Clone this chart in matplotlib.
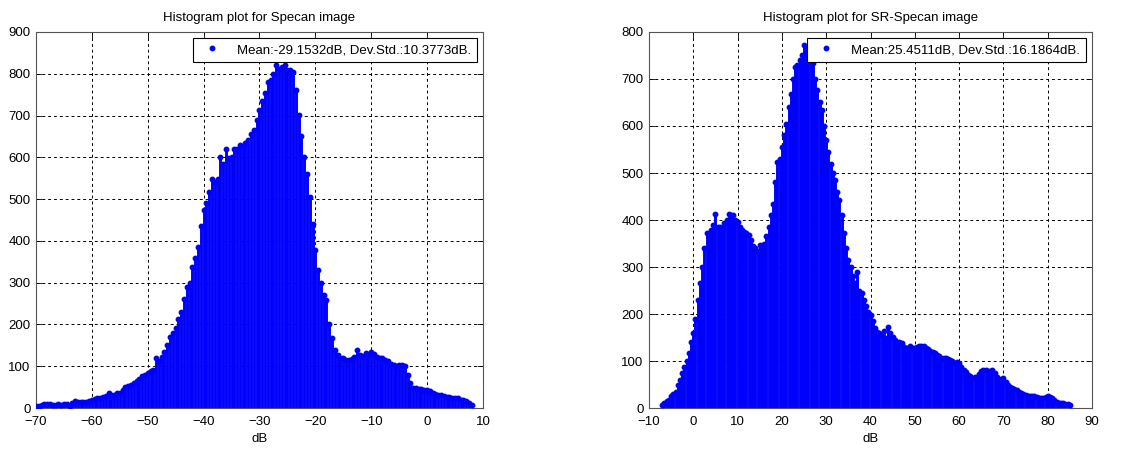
import numpy as np
import matplotlib
matplotlib.use('Agg')
import matplotlib.pyplot as plt

plt.rcParams['font.family'] = ['Liberation Sans', 'DejaVu Sans']
plt.rcParams['font.size'] = 9

# histogram of the Specan image, bins every 0.5 dB from -70 dB
specan_start = -70.0
specan_counts = [
    5, 6, 8, 9, 10, 9, 8, 8, 9, 8, 9, 9, 6, 12, 16, 15, 14, 15, 15, 17,
    18, 22, 24, 24, 26, 28, 36, 31, 32, 35, 37, 42, 50, 53, 56, 60, 64, 70, 76, 80,
    85, 88, 90, 120, 112, 122, 135, 150, 171, 180, 191, 212, 231, 260, 290, 300, 338, 360, 386, 435,
    474, 490, 518, 548, 541, 548, 600, 585, 620, 598, 601, 620, 621, 630, 625, 635, 641, 655, 665, 690,
    713, 735, 753, 780, 785, 800, 820, 812, 816, 822, 808, 810, 804, 760, 701, 650, 601, 560, 506, 440,
    378, 330, 299, 270, 259, 200, 167, 140, 127, 120, 119, 115, 115, 118, 123, 140, 127, 125, 131, 128,
    133, 130, 123, 120, 119, 115, 112, 106, 104, 100, 104, 102, 100, 80, 60, 48, 48, 46, 45, 44,
    42, 40, 36, 34, 32, 30, 28, 27, 26, 25, 24, 24, 20, 18, 16, 12, 8,
]

# histogram of the SR-Specan image, bins every 0.5 dB from -7 dB
sr_start = -7.0
sr_counts = [
    7, 10, 14, 18, 25, 30, 35, 48, 60, 75, 88, 100, 117, 140, 159, 190, 230, 265, 300, 340,
    372, 370, 379, 390, 413, 385, 386, 382, 393, 400, 412, 410, 411, 400, 396, 385, 379, 375, 372, 368,
    357, 345, 340, 333, 347, 340, 350, 365, 386, 410, 435, 480, 524, 530, 556, 580, 605, 640, 669, 700,
    726, 730, 740, 750, 772, 765, 761, 745, 733, 700, 676, 650, 634, 600, 570, 545, 520, 500, 485, 460,
    442, 410, 372, 340, 315, 300, 280, 265, 290, 250, 244, 230, 216, 205, 198, 185, 170, 162, 159, 155,
    164, 150, 172, 160, 152, 145, 138, 140, 138, 130, 127, 128, 131, 127, 127, 130, 131, 133, 131, 128,
    125, 122, 120, 118, 113, 110, 106, 107, 106, 104, 103, 100, 96, 97, 96, 88, 81, 76, 71, 68,
    64, 65, 67, 72, 78, 80, 81, 78, 78, 80, 74, 66, 60, 62, 64, 56, 50, 45, 42, 40,
    38, 35, 33, 30, 28, 26, 25, 25, 25, 23, 21, 21, 21, 23, 25, 24, 21, 16, 12, 11,
    11, 10, 9, 8, 7,
]
bin_width = 0.5

titles = ['Histogram plot for Specan image', 'Histogram plot for SR-Specan image']
legends = ['Mean:-29.1532dB, Dev.Std.:10.3773dB.', 'Mean:25.4511dB, Dev.Std.:16.1864dB.']
xlims = [(-70, 10), (-10, 90)]
ylims = [(0, 900), (0, 800)]
xticks = [np.arange(-70, 11, 10), np.arange(-10, 91, 10)]
yticks = [np.arange(0, 901, 100), np.arange(0, 801, 100)]

fig = plt.figure(figsize=(11.46, 4.5), dpi=100)
ax1 = fig.add_axes([0.0314, 0.0933, 0.390, 0.8356])
ax2 = fig.add_axes([0.5663, 0.0933, 0.3866, 0.8356])

series = [(specan_start, specan_counts), (sr_start, sr_counts)]
for i, ax in enumerate([ax1, ax2]):
    start, counts = series[i]
    x = start + bin_width * np.arange(len(counts))
    ax.vlines(x, 0, counts, colors='#0000ff', linewidth=2.1, zorder=2)
    ax.plot(x, counts, 'o', color='#0000ff', markersize=3.2, label=legends[i], zorder=3)
    ax.set_xlim(*xlims[i])
    ax.set_ylim(*ylims[i])
    ax.set_xticks(xticks[i])
    ax.set_yticks(yticks[i])
    ax.set_axisbelow(True)
    ax.grid(True, color='black', linestyle=(0, (3, 3)), linewidth=0.7)
    ax.tick_params(direction='in', top=True, right=True, length=4, width=0.6,
                   labelsize=9.5)
    ax.tick_params(axis='x', pad=6)
    ax.tick_params(axis='y', pad=4)
    for s in ax.spines.values():
        s.set_color('#555555')
        s.set_linewidth(0.8)
    ax.set_title(titles[i], fontsize=9.5, pad=8)
    ax.set_xlabel('dB', fontsize=9.5, labelpad=3)
    leg = ax.legend(loc='upper right', fancybox=False, framealpha=1,
                    edgecolor='black', fontsize=9.5, borderaxespad=0.45,
                    handletextpad=0.9, borderpad=0.45)
    leg.get_frame().set_linewidth(0.8)

fig.savefig('out.png', dpi=100)
